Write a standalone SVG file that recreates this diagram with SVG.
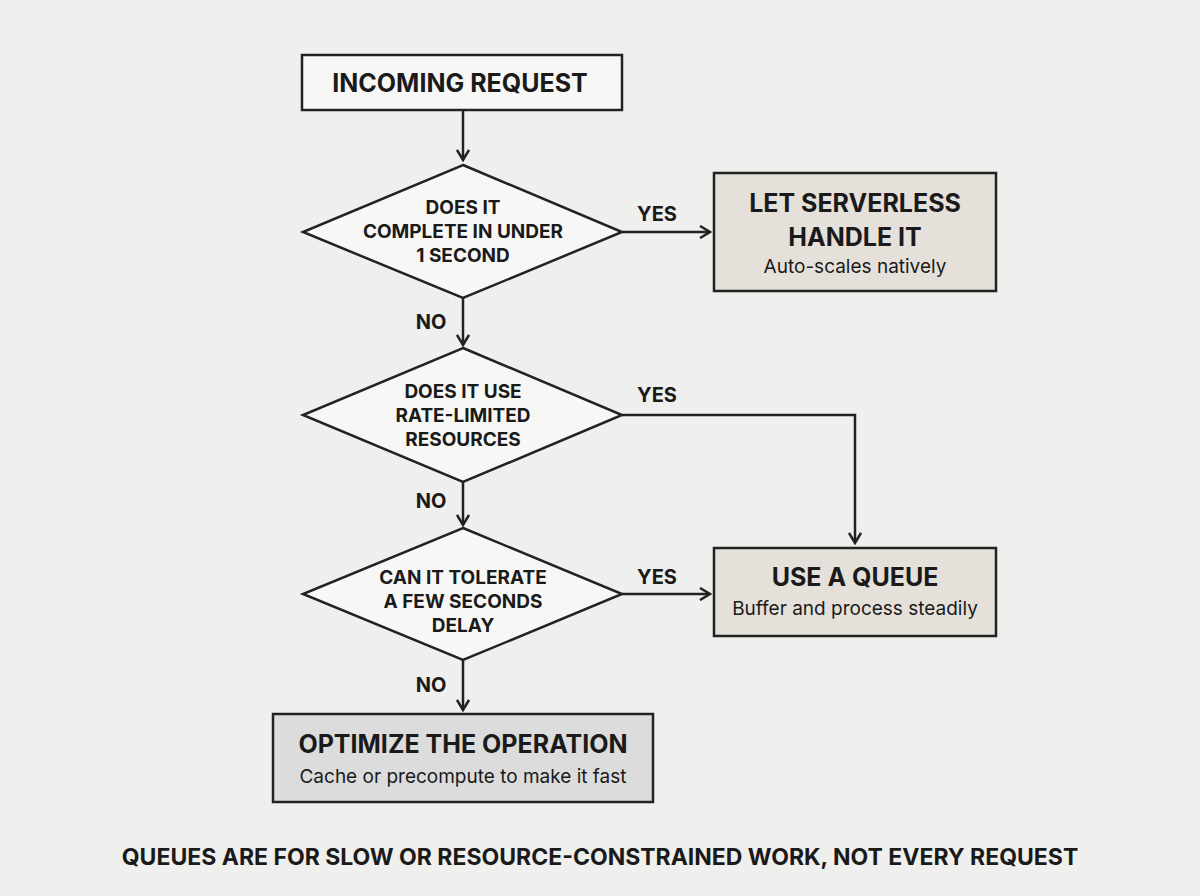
<svg xmlns="http://www.w3.org/2000/svg" width="1200" height="896" viewBox="0 0 1200 896">
<style>
.box{stroke:#222;stroke-width:2.5}
.ln{fill:none;stroke:#222;stroke-width:2.5}
.t{font-family:Inter,"Liberation Sans",sans-serif;font-weight:700;fill:#1a1a1a;text-anchor:middle}
.s{font-family:Inter,"Liberation Sans",sans-serif;font-weight:400;fill:#1a1a1a;text-anchor:middle;font-size:19px}
</style>
<defs><marker id="a" markerWidth="14" markerHeight="14" refX="12" refY="7" orient="auto" markerUnits="userSpaceOnUse"><path d="M2,1 L12,7 L2,13" fill="none" stroke="#222" stroke-width="2.5"/></marker></defs>
<rect width="1200" height="896" fill="#efefed"/>
<g id="connectors">
<path class="ln" d="M463,110 V160" marker-end="url(#a)"/>
<path class="ln" d="M622,232 H710" marker-end="url(#a)"/>
<path class="ln" d="M463,298 V345" marker-end="url(#a)"/>
<path class="ln" d="M622,415 H855 V543" marker-end="url(#a)"/>
<path class="ln" d="M463,482 V525" marker-end="url(#a)"/>
<path class="ln" d="M622,594 H710" marker-end="url(#a)"/>
<path class="ln" d="M463,660 V710" marker-end="url(#a)"/>
<text class="t" font-size="20" x="657" y="221">YES</text>
<text class="t" font-size="20" x="657" y="402">YES</text>
<text class="t" font-size="20" x="657" y="584">YES</text>
<text class="t" font-size="20" x="431" y="329">NO</text>
<text class="t" font-size="20" x="431" y="508">NO</text>
<text class="t" font-size="20" x="431" y="692">NO</text>
</g>
<g id="start"><rect class="box" x="302" y="55" width="320" height="55" fill="#f7f7f5"/><text class="t" font-size="25" x="460" y="92">INCOMING REQUEST</text></g>
<g id="d1"><polygon class="box" points="463,165 622,232 463,298 303,232" fill="#f7f7f5"/><text class="t" font-size="19" x="463" y="214">DOES IT</text><text class="t" font-size="19" x="463" y="238">COMPLETE IN UNDER</text><text class="t" font-size="19" x="463" y="262">1 SECOND</text></g>
<g id="serverless"><rect class="box" x="714" y="173" width="282" height="118" fill="#e5e1da"/><text class="t" font-size="25" x="855" y="212">LET SERVERLESS</text><text class="t" font-size="25" x="855" y="246">HANDLE IT</text><text class="s" x="855" y="273">Auto-scales natively</text></g>
<g id="d2"><polygon class="box" points="463,348 622,415 463,482 303,415" fill="#f7f7f5"/><text class="t" font-size="19" x="463" y="398">DOES IT USE</text><text class="t" font-size="19" x="463" y="422">RATE-LIMITED</text><text class="t" font-size="19" x="463" y="446">RESOURCES</text></g>
<g id="d3"><polygon class="box" points="463,528 622,594 463,660 303,594" fill="#f7f7f5"/><text class="t" font-size="19" x="463" y="584">CAN IT TOLERATE</text><text class="t" font-size="19" x="463" y="608">A FEW SECONDS</text><text class="t" font-size="19" x="463" y="632">DELAY</text></g>
<g id="queue"><rect class="box" x="714" y="548" width="282" height="88" fill="#e5e1da"/><text class="t" font-size="25" x="855" y="586">USE A QUEUE</text><text class="s" x="855" y="615">Buffer and process steadily</text></g>
<g id="optimize"><rect class="box" x="273" y="714" width="380" height="88" fill="#dcdcdc"/><text class="t" font-size="25" x="463" y="753">OPTIMIZE THE OPERATION</text><text class="s" x="463" y="783">Cache or precompute to make it fast</text></g>
<text class="t" font-size="23" x="600" y="865">QUEUES ARE FOR SLOW OR RESOURCE-CONSTRAINED WORK, NOT EVERY REQUEST</text>
</svg>
